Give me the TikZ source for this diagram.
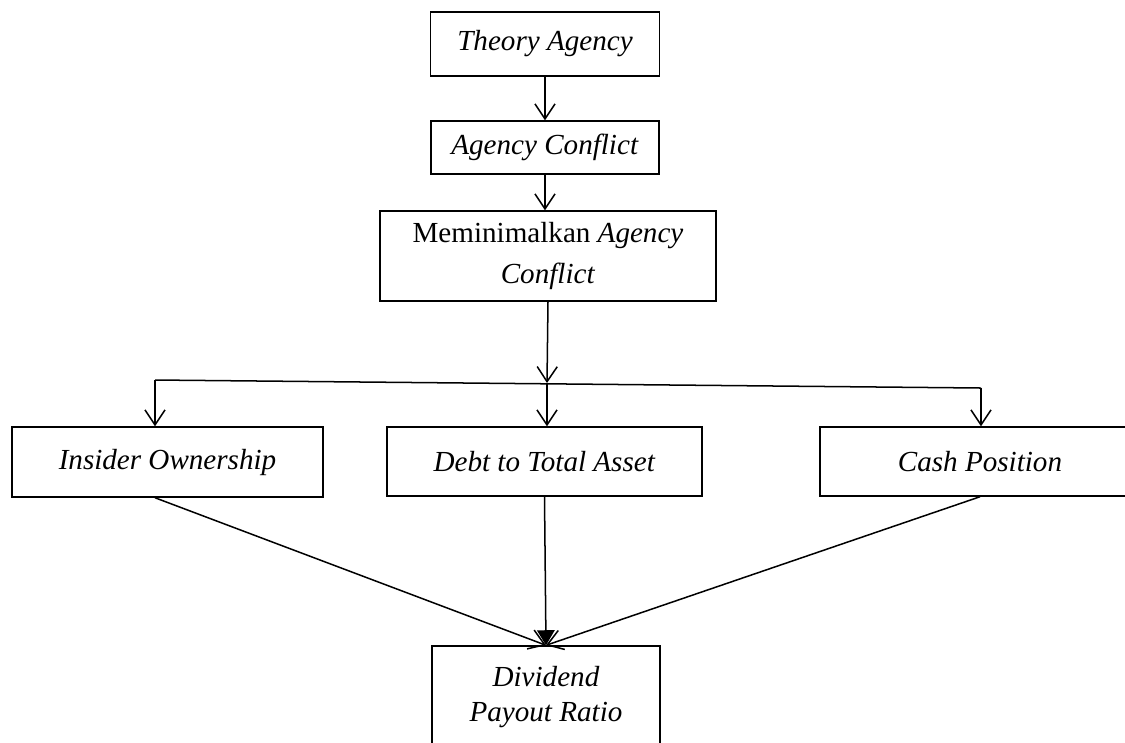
\documentclass[tikz,border=0pt]{standalone}
\usepackage{fontspec}
\setmainfont{Liberation Serif}
\usetikzlibrary{arrows.meta}
\tikzset{%
  myedge/.style={-{Straight Barb[length=6pt,width=8pt]}, line width=0.6pt},
  mysolid/.style={-{Triangle[length=6pt,width=7pt]}, line width=0.6pt},
  mybox/.style={rectangle, draw=black, line width=0.6pt, align=center, inner sep=0pt}
}

\begin{document}
\begin{tikzpicture}[x=0.014cm, y=-0.014cm, font=\fontsize{11.6pt}{14pt}\selectfont]

  \clip (0,0) rectangle (1125,742);
  \node[mybox, minimum width=3.206cm, minimum height=0.896cm] (theory) at (545,44) {\textit{Theory Agency}};
  \node[mybox, minimum width=3.192cm, minimum height=0.742cm] (conflict) at (545,147.5) {\textit{Agency Conflict}};
  \node[mybox, minimum width=4.704cm, minimum height=1.26cm] (minim) at (548,256) {Meminimalkan \textit{Agency}\\[2pt] \textit{Conflict}};
  \node[mybox, minimum width=4.354cm, minimum height=0.98cm] (insider) at (167.5,462) {\textit{Insider Ownership}};
  \node[mybox, minimum width=4.41cm, minimum height=0.966cm] (debt) at (544.5,461.5) {\textit{Debt to Total Asset}};
  \node[mybox, minimum width=4.48cm, minimum height=0.966cm] (cash) at (980,461.5) {\textit{Cash Position}};
  \node[mybox, minimum width=3.192cm, minimum height=1.428cm] (dividend) at (546,697) {\textit{Dividend}\\ \textit{Payout Ratio}};

  \coordinate (hl) at (155,380);
  \coordinate (hr) at (981,388);
  \coordinate (hm) at (547,383);

  \draw [myedge] (theory.south) -- (conflict.north);
  \draw [myedge] (conflict.south) -- (conflict.south |- minim.north);
  \draw [myedge] (minim.south) -- (hm);
  \draw [line width=0.6pt] (hl) -- (hr);
  \draw [myedge] (hl) -- (hl |- insider.north);
  \draw [myedge] (hm) -- (hm |- debt.north);
  \draw [myedge] (hr) -- (hr |- cash.north);

  \draw [myedge] (hl |- insider.south) -- (dividend.north);
  \draw [mysolid] (debt.south) -- (dividend.north);
  \draw [myedge] (cash.south) -- (dividend.north);
\end{tikzpicture}
\end{document}
